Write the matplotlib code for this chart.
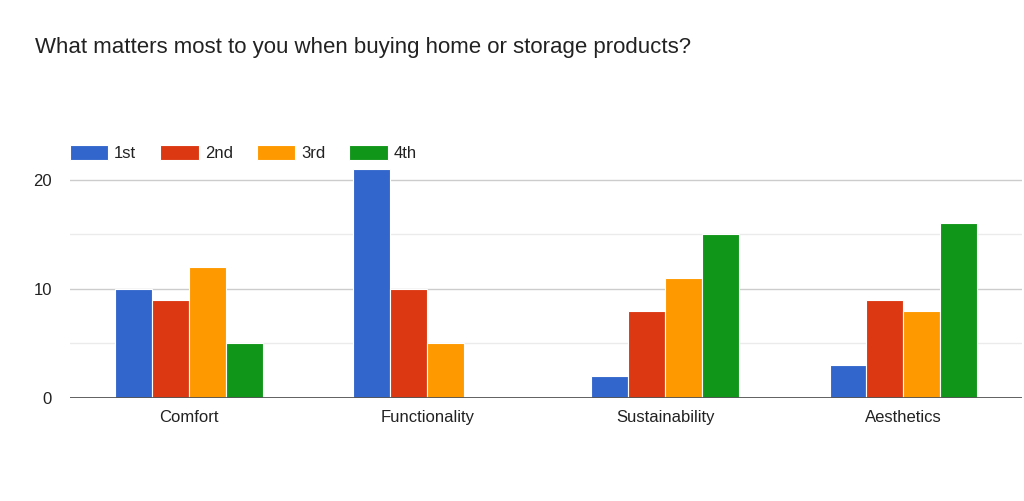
import numpy as np
import matplotlib
matplotlib.use('Agg')
import matplotlib.pyplot as plt

plt.rcParams['font.family'] = ['Liberation Sans', 'DejaVu Sans']

categories = ['Comfort', 'Functionality', 'Sustainability', 'Aesthetics']
series_names = ['1st', '2nd', '3rd', '4th']
first = [10, 21, 2, 3]
second = [9, 10, 8, 9]
third = [12, 5, 11, 8]
fourth = [5, 0, 15, 16]

COLORS = ['#3366CC', '#DC3912', '#FF9900', '#109618']
TEXT = '#222222'

fig = plt.figure(figsize=(10.24, 5.01), dpi=100)
ax = fig.add_axes([0.0684, 0.2056, 0.93, 0.479])

x = np.arange(len(categories))
w = 0.155
for i, (vals, name) in enumerate(zip([first, second, third, fourth], series_names)):
    ax.bar(x + (i - 1.5) * w, vals, width=w, color=COLORS[i], edgecolor='white',
           linewidth=0.8, label=name, zorder=3)

ax.set_xlim(-0.5, 3.5)
ax.set_ylim(0, 22)
ax.set_yticks([0, 10, 20])
ax.set_yticks([5, 15], minor=True)
ax.grid(axis='y', which='major', color='#cccccc', linewidth=1, zorder=0)
ax.grid(axis='y', which='minor', color='#ebebeb', linewidth=1, zorder=0)
ax.axhline(0, color='#555555', linewidth=1.3, zorder=4)
for s in ax.spines.values():
    s.set_visible(False)
ax.set_xticks(x)
ax.set_xticklabels(categories)
ax.tick_params(axis='both', which='both', length=0, labelsize=12, colors=TEXT)
ax.tick_params(axis='y', pad=13)
ax.tick_params(axis='x', pad=9)

leg = ax.legend(ncol=4, loc='center left', bbox_to_anchor=(0.0, 1.02), frameon=False,
                fontsize=12, handlelength=2.3, handleheight=1.0, handletextpad=0.35,
                columnspacing=1.45, borderaxespad=0.0, borderpad=0.0)
for t in leg.get_texts():
    t.set_color(TEXT)

fig.text(0.034, 0.905, 'What matters most to you when buying home or storage products?',
         fontsize=16, color=TEXT, va='center', ha='left')

fig.savefig('out.png', dpi=100, facecolor='white')
